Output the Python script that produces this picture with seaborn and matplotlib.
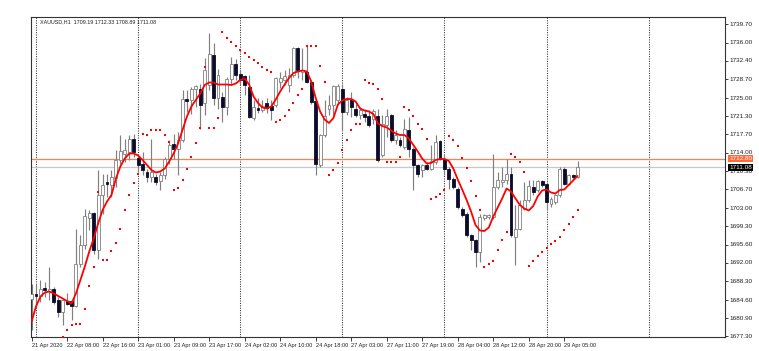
import numpy as np
import matplotlib
matplotlib.use("Agg")
import matplotlib.pyplot as plt
import seaborn as sns

sns.set_style("white")
plt.rcParams["font.family"] = ["Liberation Sans", "DejaVu Sans"]

# XAUUSD H1, 21 Apr 23:00 .. 29 Apr 08:00
opens = [1684.8, 1685.8, 1685.3, 1687.0, 1686.4, 1686.8, 1684.5, 1682.2, 1684.3, 1684.2,
         1683.3, 1691.8, 1695.5, 1701.0, 1701.8, 1694.6, 1705.5, 1708.0, 1707.6, 1709.0,
         1712.5, 1713.8, 1714.2, 1716.8, 1712.8, 1711.8, 1710.2, 1709.2, 1709.2, 1708.3,
         1709.5, 1712.8, 1715.8, 1714.8, 1716.5, 1724.8, 1724.5, 1726.8, 1726.8, 1724.0,
         1727.5, 1733.6, 1725.0, 1725.2, 1723.2, 1728.8, 1731.8, 1729.8, 1729.2, 1727.2,
         1720.9, 1722.9, 1722.6, 1723.9, 1723.2, 1723.6, 1728.2, 1728.6, 1727.6, 1729.6,
         1734.9, 1730.2, 1730.2, 1728.2, 1724.2, 1711.5, 1717.5, 1722.8, 1723.5, 1724.5,
         1726.8, 1722.2, 1724.5, 1722.8, 1721.5, 1721.7, 1721.2, 1720.8, 1721.2, 1713.5,
         1719.5, 1721.5, 1716.5, 1716.5, 1715.2, 1718.5, 1714.8, 1711.5, 1710.5, 1711.5,
         1710.8, 1712.2, 1716.2, 1712.8, 1710.8, 1708.8, 1706.8, 1702.8, 1701.8, 1697.5,
         1696.5, 1694.2, 1701.0, 1701.2, 1701.2, 1707.2, 1708.2, 1708.5, 1709.8, 1697.2,
         1698.8, 1702.8, 1704.5, 1707.2, 1706.5, 1708.2, 1707.8, 1703.8, 1704.2, 1705.5,
         1710.8, 1707.8, 1709.5, 1709.19]
highs = [1687.8, 1687.8, 1688.5, 1688.2, 1691.2, 1687.2, 1685.2, 1684.8, 1686.0, 1684.5,
         1698.8, 1697.5, 1702.8, 1702.5, 1702.2, 1710.5, 1709.8, 1709.8, 1710.5, 1714.5,
         1717.5, 1716.8, 1717.5, 1717.8, 1713.5, 1714.2, 1710.8, 1716.8, 1709.8, 1710.2,
         1713.2, 1716.5, 1717.8, 1718.2, 1726.5, 1726.5, 1727.2, 1727.5, 1727.8, 1733.0,
         1737.9, 1736.0, 1730.8, 1726.2, 1729.2, 1733.2, 1732.8, 1730.5, 1729.5, 1729.6,
         1724.6, 1724.9, 1724.6, 1724.9, 1724.6, 1729.2, 1730.2, 1730.6, 1731.0, 1735.2,
         1735.2, 1734.9, 1735.6, 1728.5, 1724.5, 1717.8, 1724.5, 1725.5, 1727.5, 1727.8,
         1727.8, 1725.2, 1726.2, 1723.8, 1723.2, 1722.8, 1722.5, 1722.8, 1722.8, 1721.5,
         1722.8, 1721.8, 1718.5, 1717.2, 1720.8, 1721.2, 1715.2, 1711.8, 1711.8, 1712.2,
         1715.5, 1717.5, 1716.5, 1713.5, 1711.2, 1709.2, 1707.2, 1703.2, 1702.2, 1697.8,
         1696.8, 1701.8, 1701.8, 1701.8, 1713.8, 1710.2, 1711.2, 1712.8, 1711.2, 1703.5,
         1704.5, 1708.2, 1708.5, 1708.5, 1708.5, 1708.5, 1708.2, 1705.2, 1705.8, 1711.2,
         1711.2, 1709.8, 1709.8, 1712.33]
lows = [1678.5, 1683.2, 1684.2, 1685.2, 1684.5, 1683.8, 1681.2, 1679.5, 1683.5, 1680.5,
        1683.2, 1691.2, 1694.8, 1698.5, 1693.8, 1692.8, 1701.8, 1705.2, 1705.2, 1707.2,
        1711.8, 1712.2, 1712.5, 1713.2, 1710.2, 1709.5, 1708.2, 1708.2, 1707.5, 1706.5,
        1708.8, 1711.8, 1712.8, 1709.5, 1716.2, 1722.2, 1721.8, 1723.2, 1718.8, 1721.5,
        1726.5, 1723.5, 1722.8, 1720.2, 1721.5, 1727.8, 1728.5, 1727.5, 1725.5, 1720.9,
        1720.6, 1721.9, 1722.2, 1721.9, 1720.6, 1723.2, 1726.9, 1727.6, 1726.2, 1729.2,
        1728.9, 1728.6, 1727.9, 1723.8, 1709.5, 1711.2, 1717.2, 1721.5, 1721.5, 1723.5,
        1718.5, 1721.5, 1721.2, 1721.2, 1720.8, 1720.2, 1719.2, 1719.8, 1712.2, 1713.2,
        1717.2, 1716.2, 1715.8, 1715.2, 1714.8, 1713.2, 1706.5, 1709.2, 1709.2, 1710.5,
        1710.5, 1711.8, 1712.5, 1709.5, 1706.8, 1706.8, 1702.8, 1701.2, 1697.2, 1694.5,
        1691.2, 1692.2, 1700.5, 1700.8, 1700.8, 1706.8, 1707.2, 1707.8, 1697.2, 1691.5,
        1698.5, 1702.5, 1704.2, 1705.5, 1706.2, 1707.2, 1702.8, 1703.2, 1703.8, 1705.2,
        1707.5, 1707.5, 1708.8, 1708.89]
closes = [1685.8, 1685.3, 1686.8, 1686.5, 1686.8, 1684.2, 1682.2, 1684.5, 1683.8, 1683.3,
          1691.8, 1695.5, 1701.2, 1702.0, 1694.6, 1705.5, 1707.5, 1707.8, 1709.0, 1712.5,
          1714.2, 1714.5, 1716.8, 1714.2, 1711.6, 1710.5, 1709.2, 1710.2, 1708.2, 1709.5,
          1712.8, 1715.5, 1714.8, 1716.5, 1724.7, 1724.3, 1726.8, 1727.2, 1723.5, 1730.5,
          1733.8, 1725.0, 1729.5, 1723.2, 1728.8, 1731.8, 1729.5, 1728.5, 1727.5, 1721.2,
          1723.2, 1722.6, 1723.2, 1722.9, 1722.6, 1728.9, 1728.9, 1729.2, 1729.6, 1734.9,
          1730.6, 1730.6, 1728.2, 1724.2, 1711.8, 1717.5, 1721.2, 1723.5, 1727.2, 1727.2,
          1722.2, 1724.5, 1723.2, 1721.5, 1722.5, 1721.2, 1719.5, 1722.2, 1712.5, 1719.8,
          1721.2, 1716.5, 1717.5, 1715.5, 1718.8, 1714.8, 1711.5, 1709.8, 1711.5, 1710.8,
          1712.2, 1716.2, 1712.8, 1710.8, 1708.8, 1707.2, 1703.2, 1701.5, 1697.5, 1696.5,
          1694.2, 1701.2, 1701.5, 1701.5, 1707.2, 1708.5, 1708.5, 1709.8, 1697.5, 1698.8,
          1703.5, 1704.5, 1707.2, 1706.2, 1708.2, 1707.5, 1704.2, 1704.8, 1705.5, 1710.8,
          1707.8, 1709.5, 1709.19, 1711.08]
ma = [1680.2, 1683.2, 1685.2, 1686.0, 1686.2, 1685.8, 1685.3, 1684.8, 1684.3, 1683.8,
      1685.8, 1688.5, 1691.2, 1694.2, 1696.8, 1699.8, 1702.5, 1704.2, 1705.5, 1708.8,
      1711.2, 1712.8, 1713.8, 1713.8, 1713.4, 1712.5, 1711.5, 1710.5, 1710.0, 1710.2,
      1710.8, 1712.2, 1713.8, 1715.8, 1718.5, 1721.2, 1723.2, 1724.5, 1725.8, 1727.5,
      1728.0, 1728.0, 1727.6, 1727.6, 1727.6, 1727.5, 1727.8, 1728.5, 1728.8, 1727.6,
      1725.2, 1723.9, 1723.0, 1722.8, 1723.2, 1724.6, 1726.2, 1727.6, 1728.9, 1729.9,
      1730.2, 1730.4, 1730.2, 1728.2, 1724.9, 1722.2, 1720.6, 1719.9, 1720.9, 1723.6,
      1724.4, 1724.7, 1724.7, 1724.2, 1722.8, 1722.4, 1722.2, 1721.7, 1719.8, 1719.3,
      1719.0, 1718.4, 1717.8, 1717.5, 1717.5, 1716.8, 1715.5, 1714.2, 1712.8, 1711.8,
      1711.9, 1712.5, 1712.7, 1712.7, 1712.3, 1710.8, 1708.6, 1706.6, 1704.5, 1702.2,
      1699.5, 1698.4, 1698.3, 1699.0, 1701.2, 1703.0, 1704.8, 1706.8, 1706.2, 1704.8,
      1703.5, 1702.8, 1702.4, 1703.3, 1705.2, 1706.4, 1706.6, 1706.0, 1705.8, 1706.5,
      1706.6, 1707.5, 1708.4, 1709.3]
nan = np.nan
sar = [nan, nan, nan, nan, nan, nan, nan, 1677.2, 1678.6, 1679.6,
       1679.8, 1679.8, 1682.7, 1687.4, 1691.2, 1706.2, 1692.5, 1692.5, 1694.4, 1696.0,
       1698.8, 1702.6, 1705.5, 1708.0, 1709.8, 1717.8, 1717.6, 1718.6, 1718.6, 1718.6,
       1717.5, 1716.2, 1706.5, 1707.0, 1708.6, 1710.8, 1713.2, 1716.0, 1719.0, 1731.2,
       1719.0, 1719.0, 1721.0, 1738.1, 1737.0, 1736.2, 1735.4, 1734.6, 1733.9, 1733.2,
       1732.6, 1731.9, 1731.2, 1730.6, 1730.1, 1720.2, 1720.5, 1721.3, 1722.6, 1723.9,
       1725.6, 1726.8, 1735.3, 1735.3, 1735.3, 1731.3, 1728.2, 1709.5, 1710.5, 1712.0,
       1714.5, 1716.6, 1718.5, 1719.8, 1719.8, 1728.5, 1728.0, 1727.7, 1726.8, 1724.8,
       1712.2, 1712.2, 1712.2, 1713.2, 1723.2, 1722.5, 1721.3, 1719.8, 1718.8, 1716.8,
       1704.8, 1705.2, 1705.7, 1706.5, 1717.3, 1716.5, 1715.3, 1713.0, 1711.0, 1708.3,
       1705.4, 1702.6, 1691.2, 1691.8, 1692.4, 1694.5, 1696.5, 1698.2, 1713.8, 1713.2,
       1712.1, 1710.2, 1691.4, 1692.4, 1693.3, 1694.2, 1695.0, 1695.7, 1696.4, 1697.2,
       1698.5, 1699.8, 1701.2, 1702.6]

time_labels = ["21 Apr 2020", "22 Apr 08:00", "22 Apr 16:00", "23 Apr 01:00", "23 Apr 09:00",
               "23 Apr 17:00", "24 Apr 02:00", "24 Apr 10:00", "24 Apr 18:00", "27 Apr 03:00",
               "27 Apr 11:00", "27 Apr 19:00", "28 Apr 04:00", "28 Apr 12:00", "28 Apr 20:00",
               "29 Apr 05:00"]
time_ticks = [0, 8, 16, 24, 32, 40, 48, 56, 64, 72, 80, 88, 96, 104, 112, 120]
day_starts = [1, 24, 47, 70, 93, 116, 139]
price_ticks = [1739.70, 1736.00, 1732.40, 1728.70, 1725.00, 1721.30, 1717.70, 1714.00, 1710.30,
               1706.70, 1703.00, 1699.30, 1695.60, 1692.00, 1688.30, 1684.60, 1680.90, 1677.30]
level_line = 1712.80
bid = 1711.08
header = "XAUUSD,H1  1709.19 1712.33 1708.89 1711.08"

o = np.array(opens); h = np.array(highs); l = np.array(lows); c = np.array(closes)
x = np.arange(len(o))
up = c >= o

fig = plt.figure(figsize=(7.59, 3.51), dpi=100)
ax = fig.add_axes([31 / 759, 14 / 351, 694 / 759, 320 / 351])

for d in day_starts:
    ax.axvline(d, color="#303030", lw=0.75, ls=(0, (1, 1.3)), zorder=0)

ax.axhline(level_line, color="#ff7f50", lw=0.9, zorder=1)
ax.axhline(bid, color="#c8c8c8", lw=0.9, zorder=1)

ax.vlines(x, l, h, color="#808080", lw=0.85, zorder=2)
body = np.maximum(np.abs(c - o), 0.12)
ax.bar(x[up], body[up], bottom=np.minimum(o, c)[up], width=0.66,
       color="white", edgecolor="#808080", linewidth=0.6, zorder=3)
ax.bar(x[~up], body[~up], bottom=np.minimum(o, c)[~up], width=0.66,
       color="#0c0c2a", edgecolor="#0c0c2a", linewidth=0.6, zorder=3)

sns.lineplot(x=x, y=ma, color="#ff0000", lw=1.3, ax=ax, zorder=4)
sns.scatterplot(x=x, y=sar, color="#ff0000", s=3.5, marker="s", linewidth=0, ax=ax, zorder=5)

ax.set_xlim(-0.126, 156.2)
ax.set_ylim(1677.1, 1741.1)

ax.yaxis.tick_right()
ax.set_yticks(price_ticks)
ax.set_yticklabels([f"{p:.2f}" for p in price_ticks])
ax.tick_params(axis="y", right=True, length=2, width=0.6, pad=1.5, labelsize=4.6, colors="#202020")
ax.set_xticks(time_ticks)
ax.set_xticklabels(time_labels, ha="left")
ax.tick_params(axis="x", bottom=True, length=3, width=0.6, pad=1.5, labelsize=4.1, colors="#202020")
ax.set_xlabel("")
ax.set_ylabel("")
for s in ax.spines.values():
    s.set_color("#333333")
    s.set_linewidth(0.8)

fig.text(40 / 759, 1 - 22 / 351, header, fontsize=3.9, va="center", color="#202020")

ax.annotate(f"{level_line:.2f}", xy=(1.0, level_line), xycoords=("axes fraction", "data"),
            xytext=(3, 0), textcoords="offset points", fontsize=4.6, color="white", va="center",
            bbox=dict(boxstyle="square,pad=0.15", fc="#ff6a3d", ec="none"))
ax.annotate(f"{bid:.2f}", xy=(1.0, bid), xycoords=("axes fraction", "data"),
            xytext=(3, 0), textcoords="offset points", fontsize=4.6, color="white", va="center",
            bbox=dict(boxstyle="square,pad=0.15", fc="#000000", ec="none"))

fig.savefig("out.png", dpi=100, facecolor="white")
